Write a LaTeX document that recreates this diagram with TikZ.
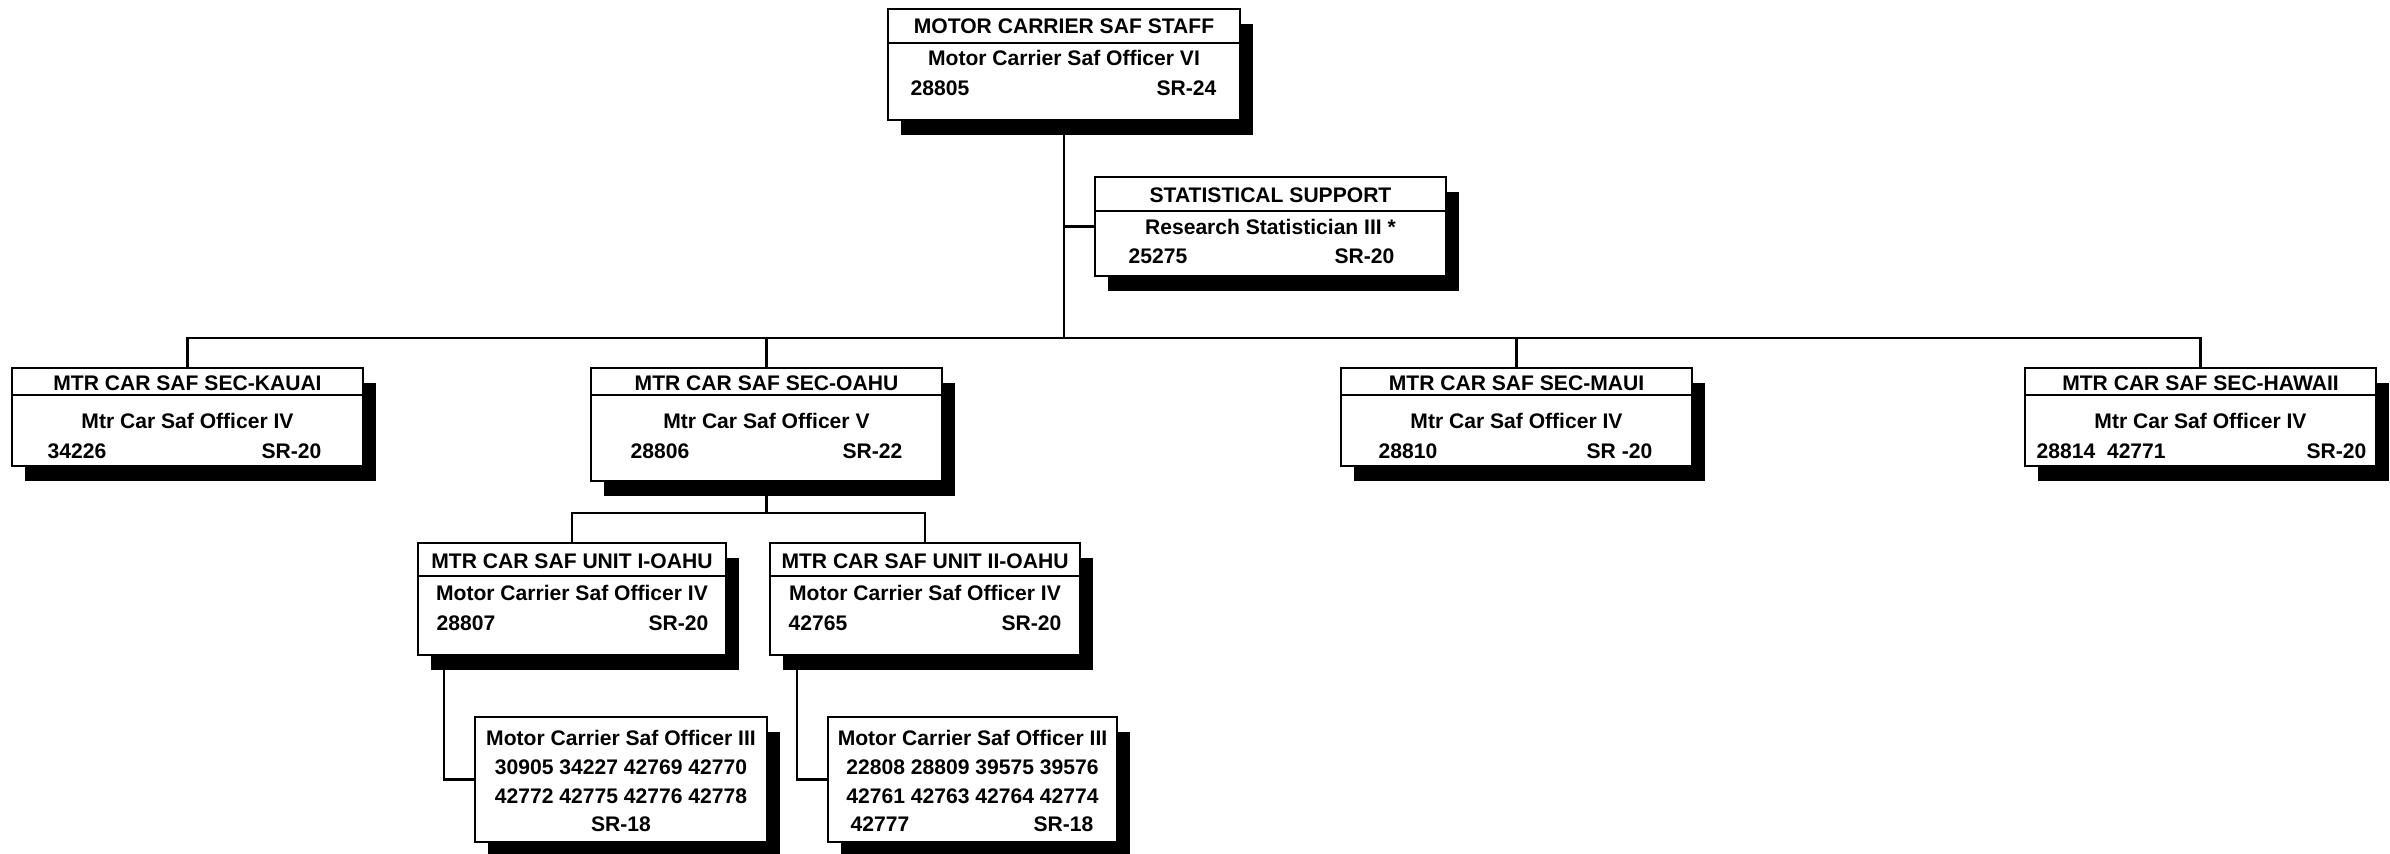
\documentclass[tikz,border=0pt]{standalone}
\usepackage{fontspec}
\setmainfont{Liberation Sans}
\usetikzlibrary{shadows, calc}

\begin{document}
\begin{tikzpicture}[
    x=0.1mm, y=-0.1mm,
    post/.style={rectangle, draw, fill=white, line width=0.6pt,
                 inner sep=0pt, outer sep=0pt, minimum width=#1,
                 drop shadow={shadow xshift=1.3mm, shadow yshift=-1.5mm,
                              fill=black, opacity=1}},
    post/.default=35.1mm,
    rule/.style={line width=0.6pt},
    link/.style={line width=0.6pt},
    txt/.style={font=\fontsize{6}{7}\selectfont\bfseries, inner sep=0pt, anchor=base},
    txtl/.style={txt, anchor=base west},
    txtr/.style={txt, anchor=base east}
]
\useasboundingbox (0,0) rectangle (2390,854);

% Boxes
\node[post=35.2mm, minimum height=11.1mm] (staff) at (1064,64.5) {};
\node[post, minimum height=9.9mm] (stat) at (1270.5,226.5) {};
\node[post, minimum height=9.8mm] (kauai) at (187.5,417) {};
\node[post, minimum height=11.3mm] (oahu) at (766.5,424.5) {};
\node[post, minimum height=9.8mm] (maui) at (1516.5,417) {};
\node[post, minimum height=9.8mm] (hawaii) at (2200.5,417) {};
\node[post=30.8mm, minimum height=11.2mm] (unitI) at (572,599) {};
\node[post=31mm, minimum height=11.2mm] (unitII) at (925,599) {};
\node[post=29.2mm, minimum height=12.5mm] (offI) at (621,779.5) {};
\node[post=28.9mm, minimum height=12.5mm] (offII) at (972.5,779.5) {};

% Header rules
\foreach \b/\d in {staff/34, stat/34, kauai/27, oahu/27, maui/27, hawaii/27, unitI/33, unitII/33}
  \draw[rule] ($(\b.north west)+(0,\d)$) -- ($(\b.north east)+(0,\d)$);

% Staff
\node[txt] (staff-h) at (1064,34) {MOTOR CARRIER SAF STAFF};
\node[txt] (staff-t) at (1064,66) {Motor Carrier Saf Officer VI};
\node[txtl] (staff-n) at (910,96) {28805};
\node[txtr] (staff-g) at (1217,96) {SR-24};

% Statistical support
\node[txt] (stat-h) at (1270.5,203) {STATISTICAL SUPPORT};
\node[txt] (stat-t) at (1270.5,235) {Research Statistician III *};
\node[txtl] (stat-n) at (1128,264) {25275};
\node[txtr] (stat-g) at (1395,264) {SR-20};

% Sections
\node[txt] (kauai-h) at (187.5,391) {MTR CAR SAF SEC-KAUAI};
\node[txt] (kauai-t) at (187.5,428) {Mtr Car Saf Officer IV};
\node[txtl] (kauai-n) at (47,458) {34226};
\node[txtr] (kauai-g) at (322,458) {SR-20};

\node[txt] (oahu-h) at (766.5,391) {MTR CAR SAF SEC-OAHU};
\node[txt] (oahu-t) at (766.5,428) {Mtr Car Saf Officer V};
\node[txtl] (oahu-n) at (630,458) {28806};
\node[txtr] (oahu-g) at (903,458) {SR-22};

\node[txt] (maui-h) at (1516.5,391) {MTR CAR SAF SEC-MAUI};
\node[txt] (maui-t) at (1516.5,428) {Mtr Car Saf Officer IV};
\node[txtl] (maui-n) at (1378,458) {28810};
\node[txtr] (maui-g) at (1653,458) {SR -20};

\node[txt] (hawaii-h) at (2200.5,391) {MTR CAR SAF SEC-HAWAII};
\node[txt] (hawaii-t) at (2200.5,428) {Mtr Car Saf Officer IV};
\node[txtl] (hawaii-n) at (2036,458) {28814\ \ 42771};
\node[txtr] (hawaii-g) at (2367,458) {SR-20};

% Oahu units
\node[txt] (unitI-h) at (572,568) {MTR CAR SAF UNIT I-OAHU};
\node[txt] (unitI-t) at (572,600) {Motor Carrier Saf Officer IV};
\node[txtl] (unitI-n) at (436,630) {28807};
\node[txtr] (unitI-g) at (709,630) {SR-20};

\node[txt] (unitII-h) at (925,568) {MTR CAR SAF UNIT II-OAHU};
\node[txt] (unitII-t) at (925,600) {Motor Carrier Saf Officer IV};
\node[txtl] (unitII-n) at (788,630) {42765};
\node[txtr] (unitII-g) at (1062,630) {SR-20};

% Officer III positions
\node[txt] (offI-t) at (621,745) {Motor Carrier Saf Officer III};
\node[txt] (offI-a) at (621,774) {30905 34227 42769 42770};
\node[txt] (offI-b) at (621,803) {42772 42775 42776 42778};
\node[txt] (offI-g) at (621,831) {SR-18};

\node[txt] (offII-t) at (972.5,745) {Motor Carrier Saf Officer III};
\node[txt] (offII-a) at (972.5,774) {22808 28809 39575 39576};
\node[txt] (offII-b) at (972.5,803) {42761 42763 42764 42774};
\node[txtl] (offII-n) at (850,831) {42777};
\node[txtr] (offII-g) at (1094,831) {SR-18};

% Connectors
\coordinate (bus) at (1064,338);
\coordinate (oahubus) at (766.5,513);
\draw[link] (staff.south) -- (bus);
\draw[link] (staff.south |- stat.west) -- (stat.west);
\draw[link] (kauai.north) |- (bus) -| (hawaii.north);
\draw[link] (oahu.north) -- (oahu.north |- bus);
\draw[link] (maui.north) -- (maui.north |- bus);
\draw[link] (oahu.south) -- (oahubus);
\draw[link] (unitI.north) |- (oahubus) -| (unitII.north);
\draw[link] ($(unitI.south west)+(26,0)$) |- (offI.west);
\draw[link] ($(unitII.south west)+(27,0)$) |- (offII.west);

\end{tikzpicture}
\end{document}
